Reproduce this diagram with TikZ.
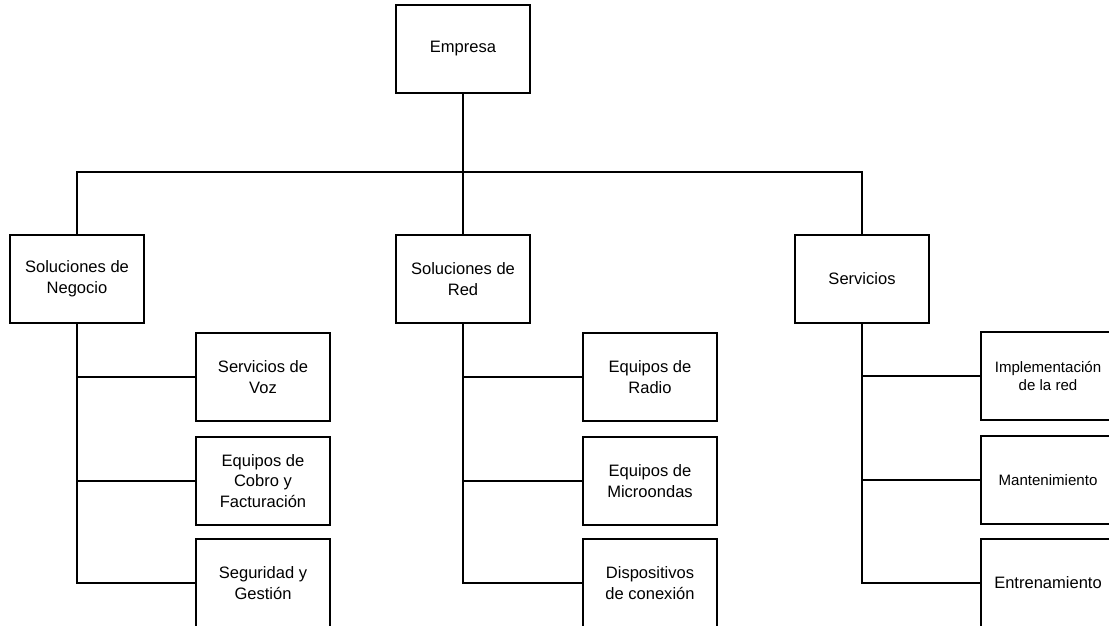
\documentclass[tikz,border=0pt]{standalone}
\usepackage{fontspec}
\setmainfont{Liberation Sans}
\usetikzlibrary{positioning}
\tikzset{
    orgBox/.style={
        rectangle,
        draw,
        line width=0.9pt,
        minimum width=100.5pt,
        minimum height=66pt,
        align=center,
        inner sep=2pt,
        font=\fontsize{12.4}{15.6}\selectfont
    },
    % smaller text for the long labels
    orgSmall/.style={orgBox, font=\fontsize{11.3}{13.8}\selectfont},
    orgLine/.style={line width=0.9pt}
}
\begin{document}
\begin{tikzpicture}[x=0.75pt, y=-0.75pt]
    \useasboundingbox (0,0) rectangle (1109,625);
    \clip (0,0) rectangle (1109,625);
    % top and first level
    \node[orgBox] (emp) at (463,49) {Empresa};
    \node[orgBox] (neg) at (77,279) {Soluciones de\\Negocio};
    \node[orgBox] (red) at (463,279) {Soluciones de\\Red};
    \node[orgBox] (serv) at (862,279) {Servicios};
    \coordinate (bus) at (463,172);
    % second level
    \foreach \i/\y/\txt in {1/377/{Servicios de\\Voz}, 2/481/{Equipos de\\Cobro y\\Facturación}, 3/583/{Seguridad y\\Gestión}} {
        \node[orgBox] (neg\i) at (263,\y) {\txt};
    }
    \foreach \i/\y/\txt in {1/377/{Equipos de\\Radio}, 2/481/{Equipos de\\Microondas}, 3/583/{Dispositivos\\de conexión}} {
        \node[orgBox] (red\i) at (650,\y) {\txt};
    }
    \foreach \i/\y/\sty/\txt in {1/376/orgSmall/{Implementación\\de la red}, 2/480/orgSmall/Mantenimiento, 3/583/orgBox/Entrenamiento} {
        \node[\sty] (serv\i) at (1048,\y) {\txt};
    }
    % connectors
    \draw[orgLine] (emp) -- (red);
    \draw[orgLine] (neg.north) |- (bus) -| (serv.north);
    \foreach \p in {neg, red, serv} {
        \draw[orgLine] (\p.south) |- (\p3.west);
        \foreach \i in {1,2} {
            \draw[orgLine] (\p.south |- \p\i.west) -- (\p\i.west);
        }
    }
\end{tikzpicture}
\end{document}
